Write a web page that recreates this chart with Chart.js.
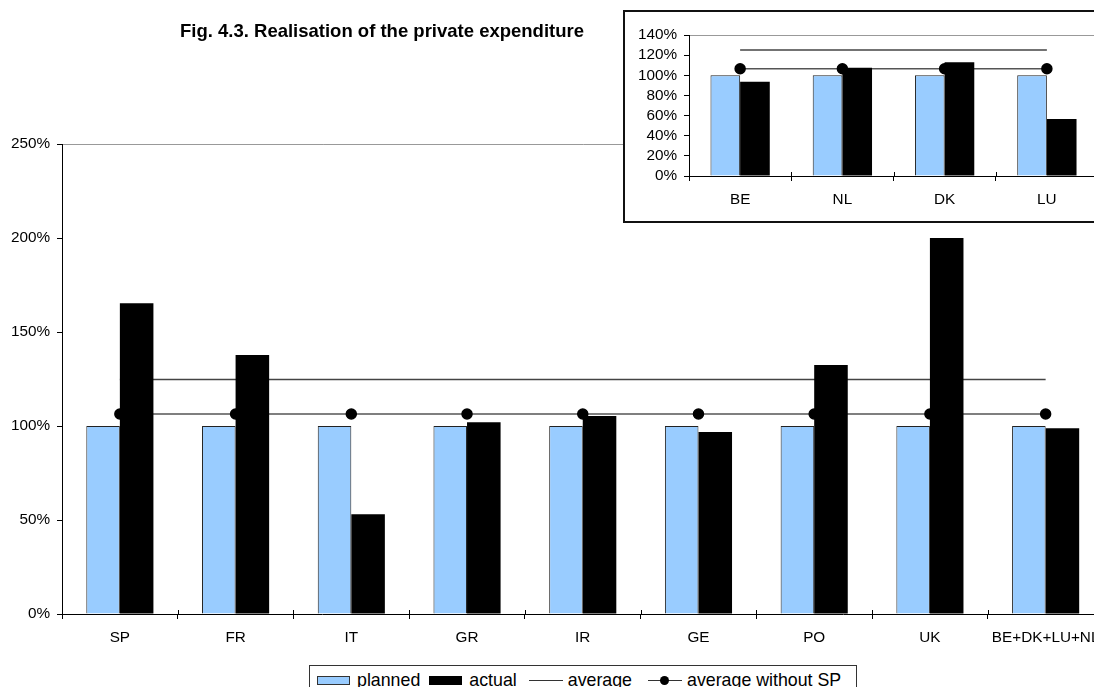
<!DOCTYPE html>
<html>
<head>
<meta charset="utf-8">
<script src="https://cdn.jsdelivr.net/npm/chart.js@4/dist/chart.umd.min.js"></script>
<style>
  html, body { margin: 0; padding: 0; background: #fff; overflow: hidden; width: 1094px; height: 687px; }
  body { position: relative; font-family: 'Liberation Sans', Arial, sans-serif; color: #000; }
  #main { position: absolute; left: 0; top: 0; }
  #title { position: absolute; left: 180px; top: 22px; font-size: 18.5px; line-height: 18.5px; font-weight: bold; white-space: nowrap; }
  #insetBox { position: absolute; left: 623px; top: 10px; width: 500px; height: 209px; border: 2px solid #111; background: #fff; }
  #inset { position: absolute; left: 0; top: 0; }
  #legend { position: absolute; left: 309px; top: 665px; height: 40px; border: 1px solid #333; background: #fff;
            display: flex; align-items: flex-start; padding: 0 15px 0 7px; font-size: 17.8px; line-height: 20px; white-space: nowrap; }
  #legend .item { display: flex; align-items: center; margin-top: 4px; }
  #legend .sw { width: 33px; height: 9px; margin-right: 7px; box-sizing: border-box; }
  #legend .planned { background: #99ccff; border: 1px solid #333; }
  #legend .actual { background: #000; }
  #legend .ln { position: relative; width: 34px; height: 1px; background: #333; margin-right: 5px; }
  #legend .ln .dot { position: absolute; left: 12px; top: -4px; width: 9px; height: 9px; border-radius: 50%; background: #000; }
</style>
</head>
<body>
<canvas id="main" width="1110" height="700"></canvas>
<div id="title">Fig. 4.3. Realisation of the private expenditure</div>
<div id="insetBox"><canvas id="inset" width="500" height="209"></canvas></div>
<div id="legend">
  <span class="item"><span class="sw planned"></span>planned</span>
  <span class="item" style="margin-left:9px"><span class="sw actual"></span>actual</span>
  <span class="item" style="margin-left:12px"><span class="ln"></span>average</span>
  <span class="item" style="margin-left:16px"><span class="ln"><span class="dot"></span></span>average without SP</span>
</div>
<script>
// main chart: realisation per member state
const countries = ['SP', 'FR', 'IT', 'GR', 'IR', 'GE', 'PO', 'UK', 'BE+DK+LU+NL'];
const planned = [1, 1, 1, 1, 1, 1, 1, 1, 1];
const actual = [1.653, 1.378, 0.53, 1.02, 1.053, 0.968, 1.324, 2.0, 0.988];
const average = [1.247, 1.247, 1.247, 1.247, 1.247, 1.247, 1.247, 1.247, 1.247];
const averageNoSP = [1.064, 1.064, 1.064, 1.064, 1.064, 1.064, 1.064, 1.064, 1.064];

// inset: the smaller countries
const smallCountries = ['BE', 'NL', 'DK', 'LU'];
const smallPlanned = [1, 1, 1, 1];
const smallActual = [0.935, 1.075, 1.13, 0.565];
const smallAverage = [1.25, 1.25, 1.25, 1.25];
const smallAverageNoSP = [1.065, 1.065, 1.065, 1.065];

const mainTicks = { max: 2.5, step: 0.5 };
const insetTicks = { max: 1.4, step: 0.2 };

Chart.defaults.font.family = "'Liberation Sans', Arial, sans-serif";
Chart.defaults.font.size = 15.3;
Chart.defaults.color = '#000';
Chart.defaults.animation = false;

// crossing tick marks on the category axis (half above, half below)
const crossTicks = {
  id: 'crossTicks',
  afterDraw(chart) {
    const x = chart.scales.x;
    const ctx = chart.ctx;
    const bottom = chart.chartArea.bottom;
    ctx.save();
    ctx.strokeStyle = '#000';
    ctx.lineWidth = 1;
    ctx.beginPath();
    for (let i = 0; i <= x.ticks.length; i++) {
      const px = Math.round(x.getPixelForTick(0) - (x.getPixelForTick(1) - x.getPixelForTick(0)) / 2
        + i * (x.getPixelForTick(1) - x.getPixelForTick(0))) + 0.5;
      ctx.moveTo(px, bottom - 4);
      ctx.lineTo(px, bottom);
    }
    ctx.stroke();
    ctx.restore();
  },
};

function buildChart(canvas, labels, plan, act, avg, avgNoSP, ticks, layout) {
  return new Chart(canvas, {
    type: 'bar',
    data: {
      labels,
      datasets: [
        {
          label: 'planned',
          data: plan,
          backgroundColor: '#99ccff',
          borderColor: '#222',
          borderWidth: 1,
          barPercentage: 1,
          categoryPercentage: 0.58,
        },
        {
          label: 'actual',
          data: act,
          backgroundColor: '#000',
          borderWidth: 0,
          barPercentage: 1,
          categoryPercentage: 0.58,
        },
        {
          type: 'line',
          label: 'average',
          data: avg,
          borderColor: '#444',
          borderWidth: 1.5,
          pointRadius: 0,
        },
        {
          type: 'line',
          label: 'average without SP',
          data: avgNoSP,
          borderColor: '#555',
          borderWidth: 1.5,
          pointRadius: 5,
          pointBackgroundColor: '#000',
          pointBorderColor: '#000',
        },
      ],
    },
    options: {
      responsive: false,
      layout: { padding: layout.padding },
      plugins: { legend: { display: false }, tooltip: { enabled: false } },
      scales: {
        x: {
          grid: { drawOnChartArea: false, tickLength: 5, tickColor: '#000' },
          border: { color: '#000', width: 1 },
          ticks: { padding: 10, maxRotation: 0, autoSkip: false },
          afterFit(scale) { scale.height = 40; },
        },
        y: {
          min: 0,
          max: ticks.max,
          grid: {
            color: (ctx) => (ctx.tick && ctx.tick.value >= ticks.max - 1e-6 ? '#999' : 'transparent'),
            tickColor: '#000',
            tickLength: 5,
          },
          border: { color: '#000', width: 1 },
          ticks: {
            stepSize: ticks.step,
            padding: 7,
            autoSkip: false,
            callback: (v) => Math.round(v * 100) + '%',
          },
          afterFit(scale) { scale.width = layout.yWidth; },
        },
      },
    },
    plugins: [crossTicks],
  });
}

buildChart(document.getElementById('main'), countries, planned, actual, average, averageNoSP, mainTicks,
  { padding: { left: 0, top: 144, right: 5, bottom: 46 }, yWidth: 62 });

buildChart(document.getElementById('inset'), smallCountries, smallPlanned, smallActual, smallAverage, smallAverageNoSP, insetTicks,
  { padding: { left: 0, top: 23, right: 27, bottom: 5 }, yWidth: 64 });
</script>
</body>
</html>
